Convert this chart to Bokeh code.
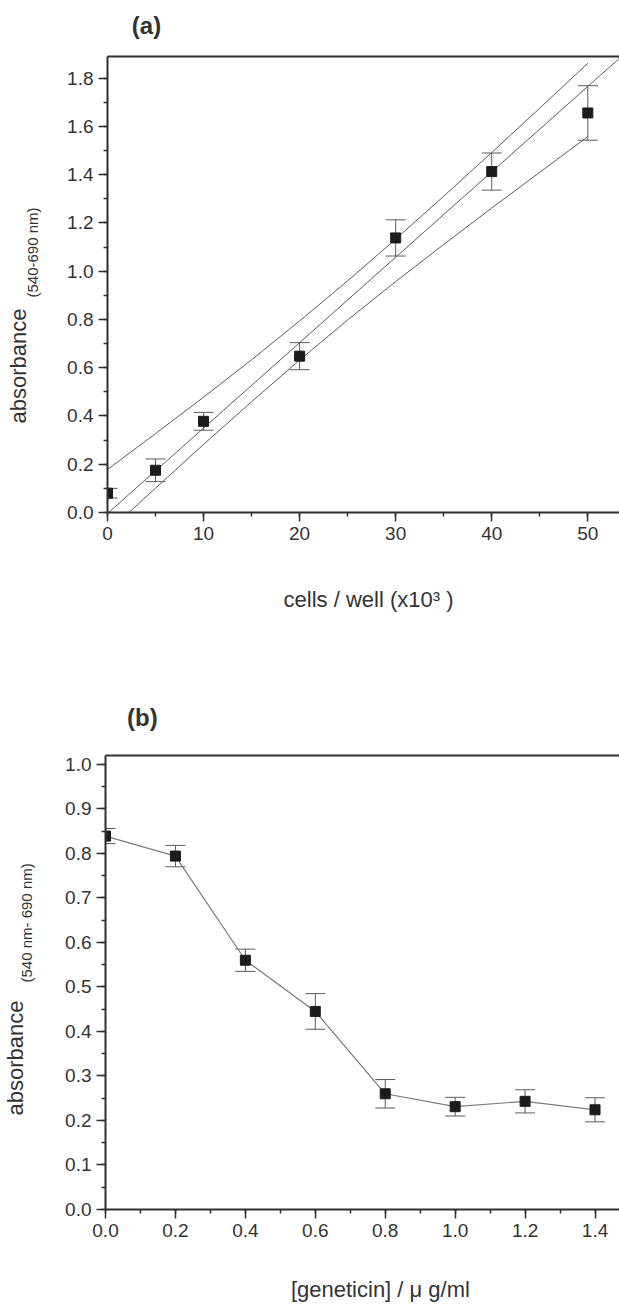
import math

from bokeh.core.properties import value
from bokeh.embed import file_html
from bokeh.layouts import column, row
from bokeh.models import (ColumnDataSource, FixedTicker, LinearAxis,
                          NumeralTickFormatter, Range1d, SingleIntervalTicker,
                          TeeHead, Whisker)
from bokeh.plotting import figure
from bokeh.resources import INLINE

# ---------------- data: (a) calibration, cells per well ----------------
cells = [0, 5, 10, 20, 30, 40, 50]                      # x10^3 cells / well
abs_a = [0.080, 0.175, 0.378, 0.648, 1.138, 1.413, 1.656]
err_a = [0.020, 0.047, 0.037, 0.056, 0.075, 0.077, 0.113]

# straight reference line and the 95 % band drawn around the fit
ref_x = [0, 55]
ref_y = [-0.004, 1.943]
band_x = [0, 5, 10, 15, 20, 25, 30, 35, 40, 45, 50]
band_upper = [0.178, 0.327, 0.478, 0.633, 0.794, 0.960, 1.133, 1.311, 1.492, 1.676, 1.862]
band_lower = [-0.082, 0.101, 0.282, 0.459, 0.632, 0.798, 0.957, 1.111, 1.262, 1.410, 1.558]

# ---------------- data: (b) geneticin dose response ----------------
conc = [0.0, 0.2, 0.4, 0.6, 0.8, 1.0, 1.2, 1.4]         # ug/ml
abs_b = [0.839, 0.794, 0.560, 0.445, 0.260, 0.231, 0.243, 0.224]
err_b = [0.017, 0.024, 0.025, 0.040, 0.032, 0.021, 0.026, 0.027]

FONT = "Liberation Sans"
INK = "#2e2e2e"
TXT = "#333333"
GREY = "#5c5c5c"
W = 619
STRIP = 60          # width of the strip that carries the y-axis title


def style_axis(ax, ticker, fmt):
    ax.ticker = ticker
    ax.formatter = NumeralTickFormatter(format=fmt)
    ax.axis_line_color = INK
    ax.axis_line_width = 2
    ax.major_tick_line_color = INK
    ax.major_tick_line_width = 1.5
    ax.major_tick_out = 9
    ax.major_tick_in = 0
    ax.minor_tick_line_color = INK
    ax.minor_tick_line_width = 1.5
    ax.minor_tick_out = 4
    ax.minor_tick_in = 0
    ax.major_label_text_font = FONT
    ax.major_label_text_font_size = "19px"
    ax.major_label_text_color = TXT
    ax.major_label_standoff = 5


def clean(p):
    p.grid.visible = False
    p.outline_line_color = None
    p.background_fill_color = "white"
    p.border_fill_color = "white"
    return p


def base_figure(height, xr, yr, left, top, bottom):
    p = figure(width=W - STRIP, height=height, x_range=Range1d(*xr), y_range=Range1d(*yr),
               output_backend="svg", toolbar_location=None,
               min_border_left=left - STRIP, min_border_right=0,
               min_border_top=top, min_border_bottom=bottom)
    clean(p)
    # plain line along the top edge of the frame
    p.add_layout(LinearAxis(ticker=FixedTicker(ticks=[]), major_label_text_font_size="0px",
                            major_tick_out=0, major_tick_in=0, minor_tick_out=0,
                            minor_tick_in=0, major_label_standoff=0,
                            axis_line_color=INK, axis_line_width=2), "above")
    return p


def error_bars(p, xs, ys, es):
    src = ColumnDataSource(dict(x=xs, upper=[y + e for y, e in zip(ys, es)],
                                lower=[y - e for y, e in zip(ys, es)]))
    p.add_layout(Whisker(base="x", upper="upper", lower="lower", source=src,
                         dimension="height", line_color=GREY, line_width=1,
                         upper_head=TeeHead(size=20, line_color=GREY, line_width=1),
                         lower_head=TeeHead(size=20, line_color=GREY, line_width=1)))


def put(p, s, x, y, size, angle=0.0, align="left", baseline="alphabetic", bold=False):
    p.text(x=[x], y=[y], text=[s], angle=angle, text_align=align, text_baseline=baseline,
           text_font=value(FONT), text_font_size=size, text_color=TXT,
           text_font_style="bold" if bold else "normal")


def y_title_strip(height, top, bottom, main_x, main_y, sub_text, sub_x, sub_y):
    # frame lines up with the plot frame; coordinates are pixels from the
    # strip's top-left corner
    s = figure(width=STRIP, height=height, x_range=Range1d(0, STRIP),
               y_range=Range1d(height - bottom, top),
               output_backend="svg", toolbar_location=None,
               min_border_left=0, min_border_right=0,
               min_border_top=top, min_border_bottom=bottom,
               x_axis_location=None, y_axis_location=None)
    clean(s)
    put(s, "absorbance", main_x, main_y, "22px", angle=math.pi / 2)
    put(s, sub_text, sub_x, sub_y, "15px", angle=math.pi / 2)
    return s


def text_band(height, left):
    # horizontal band above/below a plot; x in page pixels, y from the band top
    s = figure(width=W, height=height, x_range=Range1d(left, W), y_range=Range1d(height, 0),
               output_backend="svg", toolbar_location=None,
               min_border_left=left, min_border_right=0, min_border_top=0, min_border_bottom=0,
               x_axis_location=None, y_axis_location=None)
    return clean(s)


# ---------------- panel (a) ----------------
head_a = text_band(50, 107)
put(head_a, "(a)", 146, 25, "24px", align="center", baseline="middle", bold=True)

pa = base_figure(502, (0, 53.3), (0, 1.89), left=107, top=6, bottom=40)
style_axis(pa.below[0], SingleIntervalTicker(interval=10, num_minor_ticks=2), "0")
style_axis(pa.left[0], SingleIntervalTicker(interval=0.2, num_minor_ticks=2), "0.0")

error_bars(pa, cells, abs_a, err_a)
pa.line(band_x, band_upper, line_color=GREY, line_width=1)
pa.line(band_x, band_lower, line_color=GREY, line_width=1)
pa.line(ref_x, ref_y, line_color=GREY, line_width=1)
pa.scatter(cells, abs_a, marker="square", size=10, fill_color="#1c1c1c", line_color="#1c1c1c")

sa = y_title_strip(502, 6, 40, 18, 373, "(540-690 nm)", 32, 247)

foot_a = text_band(98, 107)
put(foot_a, "cells / well (x10³ )", 368, 47, "22px", align="center", baseline="middle")

# ---------------- panel (b) ----------------
head_b = text_band(99, 105)
put(head_b, "(b)", 140, 67, "24px", align="center", baseline="middle", bold=True)

pb = base_figure(500, (0, 1.47), (0, 1.02), left=105, top=6, bottom=40)
style_axis(pb.below[0], SingleIntervalTicker(interval=0.2, num_minor_ticks=2), "0.0")
style_axis(pb.left[0], SingleIntervalTicker(interval=0.1, num_minor_ticks=2), "0.0")

error_bars(pb, conc, abs_b, err_b)
pb.line(conc, abs_b, line_color="#7a7a7a", line_width=1.2)
pb.scatter(conc, abs_b, marker="square", size=10, fill_color="#1c1c1c", line_color="#1c1c1c")

sb = y_title_strip(500, 6, 40, 14.5, 366, "(540 nm- 690 nm)", 25.5, 233)

foot_b = text_band(57, 105)
put(foot_b, "[geneticin] / μ g/ml", 379, 40, "22px", align="center", baseline="middle")

layout = column(head_a, row(sa, pa, spacing=0), foot_a,
                head_b, row(sb, pb, spacing=0), foot_b, spacing=0)
open("out.html", "w").write(file_html(layout, INLINE))
